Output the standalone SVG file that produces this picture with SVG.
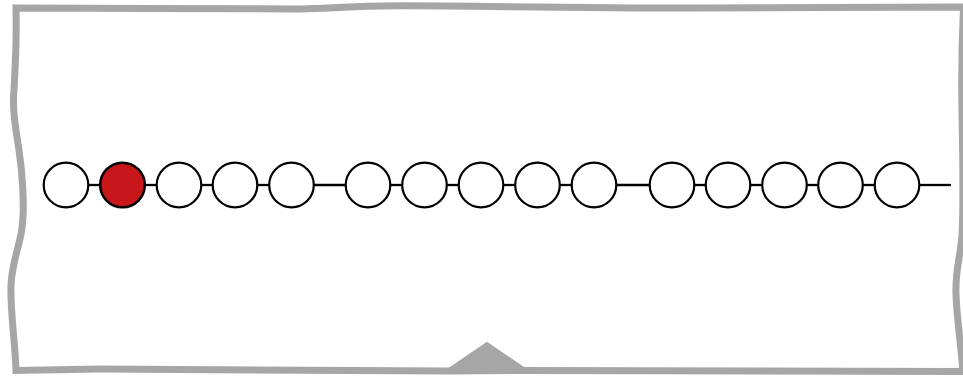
<svg xmlns="http://www.w3.org/2000/svg" width="963" height="376" viewBox="0 0 963 376">
<style>
.frame{fill:none;stroke:#A6A6A6;stroke-width:7;stroke-linejoin:miter}
.tri{fill:#A6A6A6;stroke:none}
.node{fill:#FFFFFF;stroke:#000000;stroke-width:2.2}
.hot{fill:#C8171A;stroke:#000000;stroke-width:2.5}
.edge{stroke:#000000;stroke-width:2.3;fill:none}
</style>
<rect x="0" y="0" width="963" height="376" fill="#FFFFFF"/>
<g id="frame">
<path class="frame" d="M16,8 C100,7.5 220,9.5 300,9 C330,8.7 345,6 400,5.8 C480,5.8 560,8 700,8 C800,7 900,6.5 963.5,7 C962,40 961.5,80 962,110 C962.5,150 964,200 962,235 C960,260 955,270 956,295 C957,320 961,345 963,371.5 L525,370.5 L450,371 C300,370 200,368.5 100,369 L16,370.5 C15,340 10,310 11,285 C12,262 20,245 22,228 C25,205 22,170 19,150 C16,130 12,110 14,90 C15,70 17,40 16,8 Z"/>
<polygon class="tri" points="447,369 487,341.7 527,369"/>
</g>
<g id="connectors">
<line class="edge" x1="88" y1="185" x2="100.5" y2="185"/>
<line class="edge" x1="144.5" y1="185" x2="157" y2="185"/>
<line class="edge" x1="201" y1="185" x2="213" y2="185"/>
<line class="edge" x1="257" y1="185" x2="269.5" y2="185"/>
<line class="edge" x1="313.5" y1="185" x2="346" y2="185"/>
<line class="edge" x1="390" y1="185" x2="402.5" y2="185"/>
<line class="edge" x1="446.5" y1="185" x2="459" y2="185"/>
<line class="edge" x1="503" y1="185" x2="515.5" y2="185"/>
<line class="edge" x1="559.5" y1="185" x2="572" y2="185"/>
<line class="edge" x1="616" y1="185" x2="650" y2="185"/>
<line class="edge" x1="694" y1="185" x2="706" y2="185"/>
<line class="edge" x1="750" y1="185" x2="762.5" y2="185"/>
<line class="edge" x1="806.5" y1="185" x2="818.5" y2="185"/>
<line class="edge" x1="862.5" y1="185" x2="875" y2="185"/>
<line class="edge" x1="919" y1="185" x2="951" y2="185"/>
</g>
<g id="n1"><circle class="node" cx="66" cy="185" r="22.3"/></g>
<g id="n2"><circle class="hot" cx="122.5" cy="185" r="22.3"/></g>
<g id="n3"><circle class="node" cx="179" cy="185" r="22.3"/></g>
<g id="n4"><circle class="node" cx="235" cy="185" r="22.3"/></g>
<g id="n5"><circle class="node" cx="291.5" cy="185" r="22.3"/></g>
<g id="n6"><circle class="node" cx="368" cy="185" r="22.3"/></g>
<g id="n7"><circle class="node" cx="424.5" cy="185" r="22.3"/></g>
<g id="n8"><circle class="node" cx="481" cy="185" r="22.3"/></g>
<g id="n9"><circle class="node" cx="537.5" cy="185" r="22.3"/></g>
<g id="n10"><circle class="node" cx="594" cy="185" r="22.3"/></g>
<g id="n11"><circle class="node" cx="672" cy="185" r="22.3"/></g>
<g id="n12"><circle class="node" cx="728" cy="185" r="22.3"/></g>
<g id="n13"><circle class="node" cx="784.5" cy="185" r="22.3"/></g>
<g id="n14"><circle class="node" cx="840.5" cy="185" r="22.3"/></g>
<g id="n15"><circle class="node" cx="897" cy="185" r="22.3"/></g>
</svg>
